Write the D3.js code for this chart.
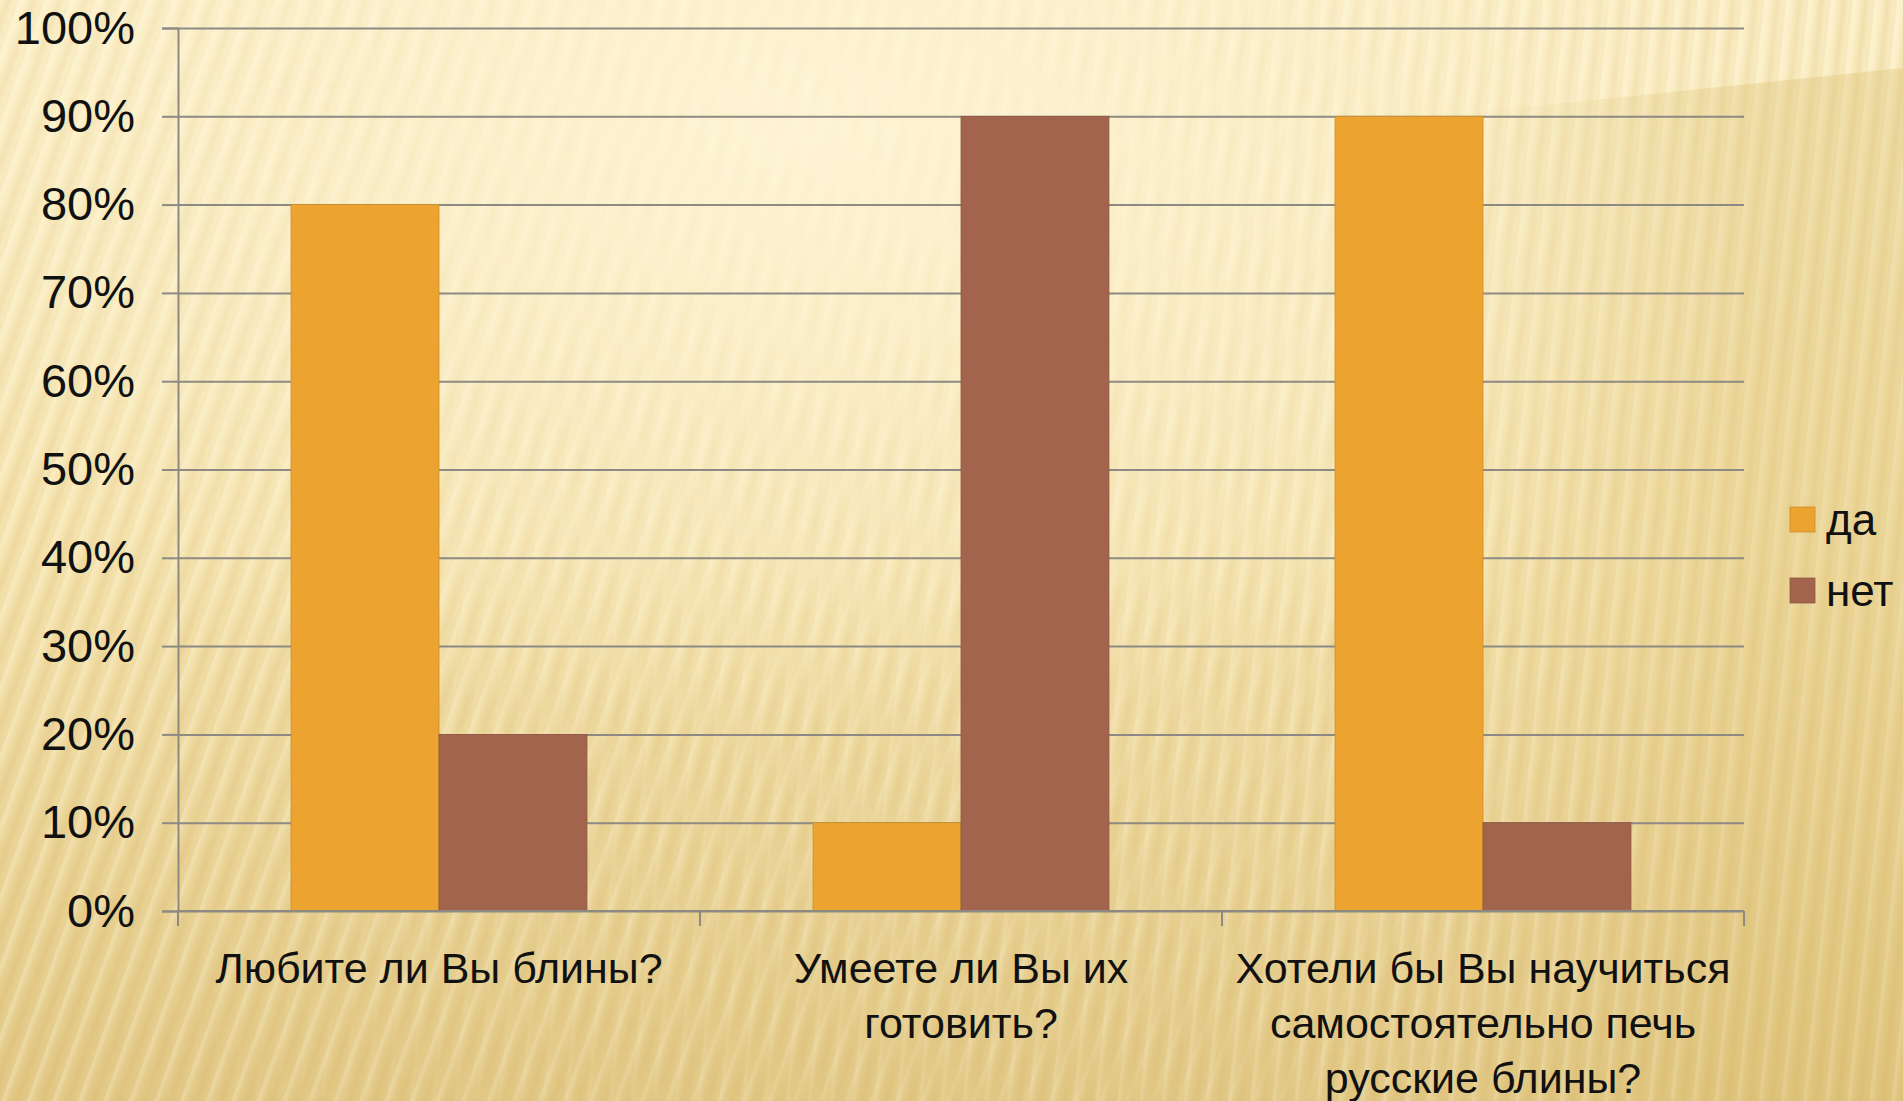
<!DOCTYPE html>
<html>
<head>
<meta charset="utf-8">
<script src="https://cdn.jsdelivr.net/npm/d3@7"></script>
<style>
  html, body { margin: 0; padding: 0; overflow: hidden; }
  svg { display: block; }
</style>
</head>
<body>
<svg id="chart" width="1903" height="1101"></svg>
<script>
// survey answers, share of respondents
const categories = [
  'Любите ли Вы блины?',
  'Умеете ли Вы их готовить?',
  'Хотели бы Вы научиться самостоятельно печь русские блины?'
];
const seriesNames = ['да', 'нет'];
const yesValues = [0.8, 0.1, 0.9];
const noValues = [0.2, 0.9, 0.1];
const yTicks = [0, 0.1, 0.2, 0.3, 0.4, 0.5, 0.6, 0.7, 0.8, 0.9, 1];
const colors = ['#eda32f', '#a3644d'];

(function() {
  const W = 1903, H = 1101;
  const svg = d3.select('#chart');
  const font = '"Liberation Sans", Arial, sans-serif';
  const axisColor = '#8c8a82';

  // background: warm beige, pale on top, golden at the bottom, soft slanted stripes
  const defs = svg.append('defs');
  const bg = defs.append('linearGradient').attr('id', 'bgGrad')
    .attr('x1', 0).attr('y1', 0).attr('x2', 0).attr('y2', 1);
  bg.append('stop').attr('offset', '0%').attr('stop-color', '#fcf0c8');
  bg.append('stop').attr('offset', '50%').attr('stop-color', '#f7e6b3');
  bg.append('stop').attr('offset', '100%').attr('stop-color', '#e4cb8a');
  const glow = defs.append('radialGradient').attr('id', 'glow')
    .attr('cx', 0.42).attr('cy', 0.12).attr('r', 0.55);
  glow.append('stop').attr('offset', '0%').attr('stop-color', '#fff6d8').attr('stop-opacity', 0.85);
  glow.append('stop').attr('offset', '100%').attr('stop-color', '#fff6d8').attr('stop-opacity', 0);

  const stripeGrad = defs.append('linearGradient').attr('id', 'stripeGrad')
    .attr('x1', 0).attr('y1', 0).attr('x2', 1).attr('y2', 0);
  stripeGrad.append('stop').attr('offset', '0%').attr('stop-color', '#c49a3c').attr('stop-opacity', 0);
  stripeGrad.append('stop').attr('offset', '35%').attr('stop-color', '#c49a3c').attr('stop-opacity', 0.18);
  stripeGrad.append('stop').attr('offset', '60%').attr('stop-color', '#c49a3c').attr('stop-opacity', 0.05);
  stripeGrad.append('stop').attr('offset', '80%').attr('stop-color', '#fffbe6').attr('stop-opacity', 0.3);
  stripeGrad.append('stop').attr('offset', '100%').attr('stop-color', '#fffbe6').attr('stop-opacity', 0);

  function stripes(id, angle, size) {
    const p = defs.append('pattern').attr('id', id)
      .attr('patternUnits', 'userSpaceOnUse')
      .attr('width', size).attr('height', 40)
      .attr('patternTransform', `rotate(${angle})`);
    p.append('rect').attr('width', size).attr('height', 40).attr('fill', 'url(#stripeGrad)');
  }
  stripes('stripesL', 20, 24);
  stripes('stripesR', 6, 22);

  const fadeL = defs.append('linearGradient').attr('id', 'fadeL')
    .attr('x1', 0).attr('y1', 0).attr('x2', 1).attr('y2', 0);
  fadeL.append('stop').attr('offset', '0%').attr('stop-color', '#fff');
  fadeL.append('stop').attr('offset', '100%').attr('stop-color', '#000');
  defs.append('mask').attr('id', 'maskL')
    .append('rect').attr('width', W).attr('height', H).attr('fill', 'url(#fadeL)');
  const fadeR = defs.append('linearGradient').attr('id', 'fadeR')
    .attr('x1', 0).attr('y1', 0).attr('x2', 1).attr('y2', 0);
  fadeR.append('stop').attr('offset', '0%').attr('stop-color', '#000');
  fadeR.append('stop').attr('offset', '100%').attr('stop-color', '#fff');
  defs.append('mask').attr('id', 'maskR')
    .append('rect').attr('width', W).attr('height', H).attr('fill', 'url(#fadeR)');

  // soft darker corner on the upper right
  const shade = defs.append('linearGradient').attr('id', 'shade')
    .attr('gradientUnits', 'userSpaceOnUse')
    .attr('x1', 1450).attr('y1', 0).attr('x2', 1750).attr('y2', 0);
  shade.append('stop').attr('offset', '0%').attr('stop-color', '#d6b865').attr('stop-opacity', 0);
  shade.append('stop').attr('offset', '100%').attr('stop-color', '#d6b865').attr('stop-opacity', 0.3);

  svg.append('rect').attr('width', W).attr('height', H).attr('fill', 'url(#bgGrad)');
  svg.append('rect').attr('width', W).attr('height', H).attr('fill', 'url(#stripesL)').attr('mask', 'url(#maskL)');
  svg.append('rect').attr('width', W).attr('height', H).attr('fill', 'url(#stripesR)').attr('mask', 'url(#maskR)');
  svg.append('rect').attr('width', W).attr('height', H).attr('fill', 'url(#glow)');
  svg.append('path').attr('d', `M1450,115 L${W},68 L${W},${H} L1450,${H} Z`).attr('fill', 'url(#shade)');

  const left = 178, right = 1744, top = 28, bottom = 911;

  const x0 = d3.scaleBand().domain(categories).range([left, right]);
  const x1 = d3.scaleBand().domain(seriesNames).range([0, x0.bandwidth()]).paddingOuter(0.764);
  const y = d3.scaleLinear().domain([0, 1]).range([bottom, top]);

  // gridlines
  svg.append('g')
    .attr('transform', `translate(${left},0)`)
    .call(d3.axisLeft(y).tickValues(yTicks).tickSize(-(right - left)).tickFormat(''))
    .call(g => g.select('.domain').remove())
    .call(g => g.selectAll('line').attr('stroke', axisColor).attr('stroke-width', 2));

  // bars
  const rows = categories.map((c, i) => ({cat: c, vals: [yesValues[i], noValues[i]]}));
  svg.append('g').selectAll('g')
    .data(rows)
    .join('g')
    .attr('transform', d => `translate(${x0(d.cat)},0)`)
    .selectAll('rect')
    .data(d => d.vals.map((v, j) => ({name: seriesNames[j], v, j})))
    .join('rect')
    .attr('x', d => x1(d.name))
    .attr('y', d => y(d.v))
    .attr('width', x1.bandwidth())
    .attr('height', d => y(0) - y(d.v))
    .attr('fill', d => colors[d.j])
    .attr('stroke', d => d3.color(colors[d.j]).darker(0.4))
    .attr('stroke-width', 0.8);

  // y axis
  svg.append('g')
    .attr('transform', `translate(${left},0)`)
    .call(d3.axisLeft(y).tickValues(yTicks).tickSize(16).tickPadding(27).tickFormat(d3.format('.0%')))
    .call(g => g.select('.domain').attr('stroke', axisColor).attr('stroke-width', 2))
    .call(g => g.selectAll('line').attr('stroke', axisColor).attr('stroke-width', 2))
    .call(g => g.selectAll('text').attr('fill', '#111').attr('font-family', font).attr('font-size', 47));

  // x axis
  const xAxis = svg.append('g').attr('transform', `translate(0,${bottom})`);
  xAxis.append('line').attr('x1', left).attr('x2', right).attr('stroke', axisColor).attr('stroke-width', 2);
  const bounds = categories.map(c => x0(c)).concat([right]);
  xAxis.selectAll('.tk').data(bounds).join('line').attr('class', 'tk')
    .attr('x1', d => d).attr('x2', d => d).attr('y1', 0).attr('y2', 15)
    .attr('stroke', axisColor).attr('stroke-width', 2);

  const labels = xAxis.selectAll('.lbl').data(categories).join('text').attr('class', 'lbl')
    .attr('x', d => x0(d) + x0.bandwidth() / 2)
    .attr('y', 72)
    .attr('text-anchor', 'middle')
    .attr('fill', '#111')
    .attr('font-family', font)
    .attr('font-size', 43);

  // wrap labels inside their category
  labels.each(function(d) {
    const t = d3.select(this);
    const words = d.split(' ');
    const maxW = 515;
    let line = [];
    let ts = t.append('tspan').attr('x', t.attr('x')).attr('dy', 0);
    words.forEach(w => {
      line.push(w);
      ts.text(line.join(' '));
      if (ts.node().getComputedTextLength() > maxW && line.length > 1) {
        line.pop();
        ts.text(line.join(' '));
        line = [w];
        ts = t.append('tspan').attr('x', t.attr('x')).attr('dy', 55).text(w);
      }
    });
  });

  // legend
  const legend = svg.append('g').attr('transform', 'translate(1790,507)');
  const li = legend.selectAll('g').data(seriesNames).join('g')
    .attr('transform', (d, i) => `translate(0,${i * 71})`);
  li.append('rect').attr('width', 25).attr('height', 25)
    .attr('fill', (d, i) => colors[i])
    .attr('stroke', (d, i) => d3.color(colors[i]).darker(0.4)).attr('stroke-width', 0.8);
  li.append('text').attr('x', 36).attr('y', 12.5).attr('dy', '0.35em')
    .attr('fill', '#111').attr('font-family', font).attr('font-size', 44)
    .text(d => d);
})();
</script>
</body>
</html>
